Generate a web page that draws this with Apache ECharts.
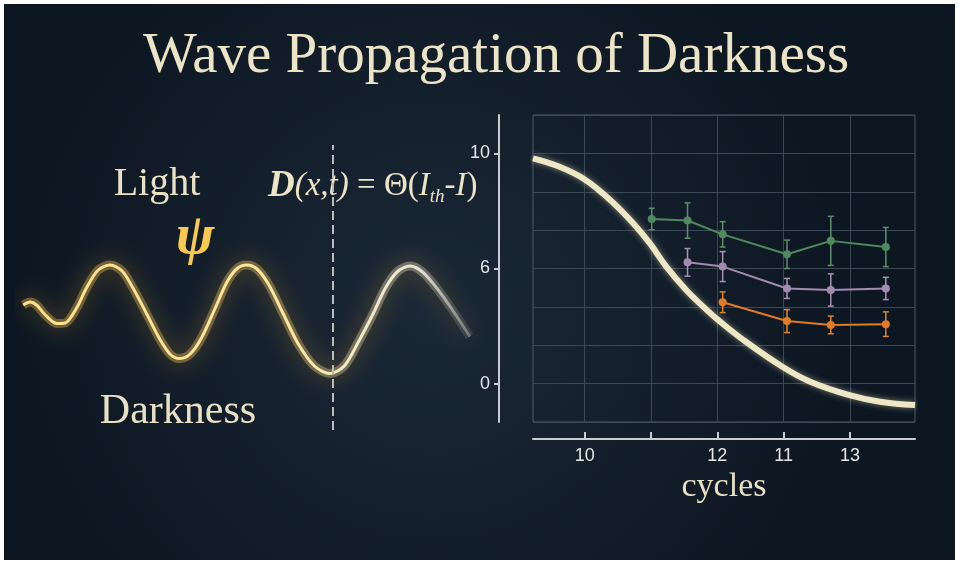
<!DOCTYPE html>
<html>
<head>
<meta charset="utf-8">
<style>
  html, body { margin: 0; padding: 0; background: #ffffff; }
  #chart { width: 960px; height: 565px; }
</style>
<script src="https://cdn.jsdelivr.net/npm/echarts@6.0.0/dist/echarts.min.js"></script>
</head>
<body>
<div id="chart"></div>
<script>
// tick positions on the right panel and the texts printed at them
const xTickPos = [1, 2, 3, 4, 5]
const xLabelPos = [1, 3, 4, 5]
const xLabelText = ['10', '12', '11', '13']
const yLabelPos = [1, 4, 7]
const yLabelText = ['0', '6', '10']

// falling threshold curve
const curveX = [0.22, 0.62, 1.0, 1.38, 1.73, 1.98, 2.23, 2.53, 2.79, 3.01, 3.39, 3.98, 4.40, 4.99, 5.45, 5.98]
const curveY = [6.87, 6.65, 6.32, 5.79, 5.18, 4.66, 4.05, 3.44, 3.0, 2.66, 2.14, 1.44, 1.05, 0.70, 0.53, 0.44]

// measured series with error bars
const greenX = [2.01, 2.55, 3.08, 4.05, 4.71, 5.54]
const greenY = [5.29, 5.25, 4.89, 4.37, 4.72, 4.56]
const greenErr = [0.28, 0.46, 0.33, 0.37, 0.64, 0.51]
const purpleX = [2.55, 3.08, 4.05, 4.71, 5.54]
const purpleY = [4.16, 4.05, 3.48, 3.44, 3.48]
const purpleErr = [0.36, 0.39, 0.26, 0.42, 0.29]
const orangeX = [3.08, 4.05, 4.71, 5.54]
const orangeY = [3.12, 2.63, 2.53, 2.55]
const orangeErr = [0.27, 0.30, 0.23, 0.32]

// glowing wave on the left panel
const waveX = [0.07, 0.22, 0.36, 0.55, 0.80, 0.98, 1.23, 1.45, 1.70, 1.96, 2.22, 2.45, 2.75, 3.05, 3.28, 3.48, 3.70, 3.95, 4.25, 4.50, 4.72, 4.93, 5.15, 5.40, 5.72, 6.05, 6.40, 6.74, 7.05, 7.35, 7.68, 7.95, 8.22, 8.48, 8.75, 9.05, 9.35, 9.78]
const waveY = [0.20, 0.26, 0.20, 0.0, -0.17, -0.16, 0.14, 0.55, 0.90, 1.0, 0.88, 0.55, 0.03, -0.50, -0.80, -0.87, -0.78, -0.45, 0.15, 0.66, 0.93, 1.0, 0.92, 0.62, 0.03, -0.58, -1.02, -1.17, -1.02, -0.55, 0.03, 0.55, 0.88, 0.98, 0.86, 0.55, 0.17, -0.43]
const thresholdX = 6.8

const zip = (xs, ys) => xs.map((x, i) => [x, ys[i]])
const zip3 = (xs, ys, es) => xs.map((x, i) => [x, ys[i], es[i]])

const serif = 'Liberation Serif'
const sans = 'Liberation Sans'

function errorSeries (name, data, color) {
  return {
    name: name,
    type: 'custom',
    xAxisIndex: 1,
    yAxisIndex: 1,
    z: 3,
    data: data,
    renderItem: function (params, api) {
      const x = api.value(0)
      const y = api.value(1)
      const e = api.value(2)
      const top = api.coord([x, y + e])
      const bot = api.coord([x, y - e])
      const style = { stroke: color, lineWidth: 1.5 }
      return {
        type: 'group',
        children: [
          { type: 'line', shape: { x1: top[0], y1: top[1], x2: bot[0], y2: bot[1] }, style: style },
          { type: 'line', shape: { x1: top[0] - 3, y1: top[1], x2: top[0] + 3, y2: top[1] }, style: style },
          { type: 'line', shape: { x1: bot[0] - 3, y1: bot[1], x2: bot[0] + 3, y2: bot[1] }, style: style }
        ]
      }
    }
  }
}

function pointSeries (name, data, color) {
  return {
    name: name,
    type: 'line',
    xAxisIndex: 1,
    yAxisIndex: 1,
    z: 4,
    data: data,
    symbol: 'circle',
    symbolSize: 8,
    itemStyle: { color: color },
    lineStyle: { color: color, width: 2 }
  }
}

const waveGradient = (a) => new echarts.graphic.LinearGradient(0, 0, 1, 0, [
  { offset: 0, color: 'rgba(247,196,80,' + a + ')' },
  { offset: 0.6, color: 'rgba(250,212,110,' + a + ')' },
  { offset: 0.72, color: 'rgba(244,228,168,' + a + ')' },
  { offset: 0.88, color: 'rgba(228,225,206,' + a + ')' },
  { offset: 1, color: 'rgba(190,190,180,' + (a * 0.35) + ')' }
])

const chart = echarts.init(document.getElementById('chart'))

const option = {
  animation: false,
  backgroundColor: '#ffffff',
  graphic: [
    {
      type: 'rect',
      z: -100,
      shape: { x: 4, y: 4, width: 951, height: 556 },
      style: {
        fill: new echarts.graphic.RadialGradient(0.45, 0.55, 0.75, [
          { offset: 0, color: '#1b2836' },
          { offset: 1, color: '#0d1722' }
        ])
      }
    },
    {
      type: 'text',
      x: 496,
      y: 57,
      style: {
        text: 'Wave Propagation of Darkness',
        font: '57px "' + serif + '"',
        fill: '#ece4c7',
        align: 'center',
        verticalAlign: 'middle'
      }
    },
    {
      type: 'text',
      x: 157,
      y: 184,
      style: {
        text: 'Light',
        font: '40px "' + serif + '"',
        fill: '#e9e1c5',
        align: 'center',
        verticalAlign: 'middle'
      }
    },
    {
      type: 'text',
      x: 178,
      y: 412,
      style: {
        text: 'Darkness',
        font: '42px "' + serif + '"',
        fill: '#e9e1c5',
        align: 'center',
        verticalAlign: 'middle'
      }
    },
    {
      type: 'text',
      x: 195,
      y: 238,
      style: {
        text: 'ψ',
        font: 'italic bold 58px "' + serif + '"',
        fill: '#f9c850',
        align: 'center',
        verticalAlign: 'middle',
        shadowBlur: 16,
        shadowColor: 'rgba(250,175,40,0.95)'
      }
    },
    {
      type: 'text',
      x: 268,
      y: 186,
      style: {
        text: '{d|D}{i|(x,t)}{n| = Θ(}{i|I}{s|th}{i|-I}{n|)}',
        fill: '#ece4c7',
        align: 'left',
        verticalAlign: 'middle',
        rich: {
          d: { fontFamily: serif, fontSize: 37, fontStyle: 'italic', fontWeight: 'bold', color: '#ece4c7', lineHeight: 40 },
          i: { fontFamily: serif, fontSize: 33, fontStyle: 'italic', color: '#ece4c7', lineHeight: 40 },
          n: { fontFamily: serif, fontSize: 33, color: '#ece4c7', lineHeight: 40 },
          s: { fontFamily: serif, fontSize: 19, fontStyle: 'italic', color: '#ece4c7', lineHeight: 22, verticalAlign: 'bottom' }
        }
      }
    }
  ],
  grid: [
    { left: 20, top: 145, width: 460, height: 285, show: false },
    {
      left: 533, top: 115, right: 45, bottom: 143,
      show: true, borderColor: '#4f5b66', borderWidth: 1, backgroundColor: 'transparent'
    }
  ],
  xAxis: [
    { gridIndex: 0, type: 'value', min: 0, max: 10, show: false },
    {
      gridIndex: 1, type: 'value', min: 0.22, max: 5.98, position: 'top',
      axisLine: { show: false },
      axisTick: { show: false, customValues: xTickPos },
      axisLabel: { show: false },
      splitLine: { show: true, lineStyle: { color: '#3b4855', width: 1 } }
    },
    {
      gridIndex: 1, type: 'value', min: 0.22, max: 5.98, position: 'bottom', offset: 17,
      axisLine: { show: true, onZero: false, lineStyle: { color: '#c9cdcf', width: 2 } },
      axisTick: { show: true, inside: true, length: 7, customValues: xTickPos, lineStyle: { color: '#c9cdcf', width: 2 } },
      axisLabel: {
        show: true, customValues: xLabelPos, margin: 8,
        color: '#e4e6e6', fontFamily: sans, fontSize: 18,
        formatter: v => xLabelText[xLabelPos.indexOf(v)]
      },
      splitLine: { show: false },
      name: 'cycles',
      nameLocation: 'middle',
      nameGap: 31,
      nameTextStyle: { color: '#e9e1c5', fontFamily: serif, fontSize: 34 }
    }
  ],
  yAxis: [
    { gridIndex: 0, type: 'value', min: -2.3, max: 3.4, show: false },
    {
      gridIndex: 1, type: 'value', min: 0, max: 8, interval: 1, position: 'right',
      axisLine: { show: false },
      axisTick: { show: false },
      axisLabel: { show: false },
      splitLine: { show: true, lineStyle: { color: '#3b4855', width: 1 } }
    },
    {
      gridIndex: 1, type: 'value', min: 0, max: 8, position: 'left', offset: 34,
      axisLine: { show: true, onZero: false, lineStyle: { color: '#c9cdcf', width: 2 } },
      axisTick: { show: true, length: 5, customValues: yLabelPos, lineStyle: { color: '#c9cdcf', width: 2 } },
      axisLabel: {
        show: true, customValues: yLabelPos, margin: 9,
        color: '#e4e6e6', fontFamily: sans, fontSize: 18,
        formatter: v => yLabelText[yLabelPos.indexOf(v)]
      },
      splitLine: { show: false }
    }
  ],
  series: [
    {
      name: 'wave halo',
      type: 'line',
      xAxisIndex: 0,
      yAxisIndex: 0,
      silent: true,
      data: zip(waveX, waveY),
      smooth: 0.3,
      symbol: 'none',
      lineStyle: {
        width: 9,
        color: waveGradient(0.35),
        shadowBlur: 22,
        shadowColor: 'rgba(245,170,40,0.9)'
      }
    },
    {
      name: 'wave',
      type: 'line',
      xAxisIndex: 0,
      yAxisIndex: 0,
      data: zip(waveX, waveY),
      smooth: 0.3,
      symbol: 'none',
      lineStyle: {
        width: 3,
        color: new echarts.graphic.LinearGradient(0, 0, 1, 0, [
          { offset: 0, color: '#ffe08a' },
          { offset: 0.6, color: '#ffe6a0' },
          { offset: 0.72, color: '#f6ecc4' },
          { offset: 0.88, color: '#e8e5d4' },
          { offset: 1, color: 'rgba(190,190,180,0.4)' }
        ])
      },
      markLine: {
        silent: true,
        symbol: 'none',
        label: { show: false },
        lineStyle: { type: [9, 5], color: '#bdbcb4', width: 2 },
        data: [{ xAxis: thresholdX }]
      }
    },
    {
      name: 'threshold',
      type: 'line',
      xAxisIndex: 1,
      yAxisIndex: 1,
      z: 2,
      data: zip(curveX, curveY),
      smooth: 0.4,
      symbol: 'none',
      lineStyle: {
        width: 6,
        color: '#eee7c6',
        shadowBlur: 6,
        shadowColor: 'rgba(240,230,190,0.5)'
      }
    },
    errorSeries('green err', zip3(greenX, greenY, greenErr), '#5d9068'),
    errorSeries('purple err', zip3(purpleX, purpleY, purpleErr), '#a892b4'),
    errorSeries('orange err', zip3(orangeX, orangeY, orangeErr), '#e0842f'),
    pointSeries('green', zip(greenX, greenY), '#4f8a5e'),
    pointSeries('purple', zip(purpleX, purpleY), '#a38ab0'),
    pointSeries('orange', zip(orangeX, orangeY), '#e27b26')
  ]
}

chart.setOption(option)
</script>
</body>
</html>
